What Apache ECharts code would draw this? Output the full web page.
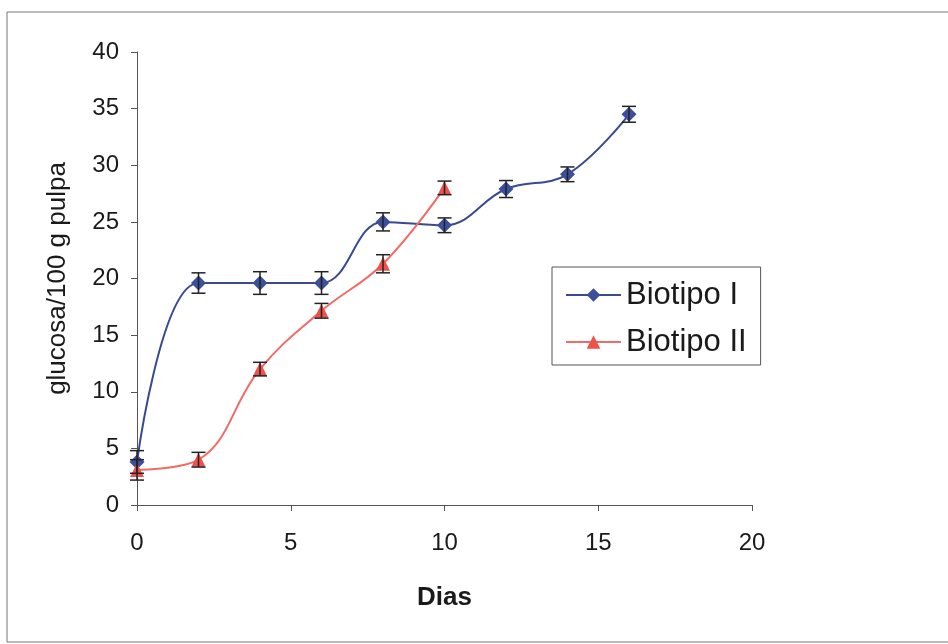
<!DOCTYPE html>
<html>
<head>
<meta charset="utf-8">
<script src="https://cdn.jsdelivr.net/npm/echarts@6/dist/echarts.min.js"></script>
<style>
  html, body { margin: 0; padding: 0; background: #fff; }
  #chart { width: 948px; height: 644px; }
</style>
</head>
<body>
<div id="chart"></div>
<script>
// datos
var dias1 = [0, 2, 4, 6, 8, 10, 12, 14, 16];
var biotipo1 = [3.8, 19.6, 19.6, 19.6, 25.0, 24.7, 27.9, 29.2, 34.5];
var err1 = [1.0, 0.9, 1.0, 1.0, 0.8, 0.65, 0.75, 0.65, 0.7];

var dias2 = [0, 2, 4, 6, 8, 10];
var biotipo2 = [3.1, 4.0, 12.0, 17.15, 21.3, 28.0];
var err2 = [0.9, 0.65, 0.6, 0.65, 0.8, 0.6];

var xTicks = [0, 5, 10, 15, 20];
var yTicks = [0, 5, 10, 15, 20, 25, 30, 35, 40];

var blue = '#3a4a8e', red = '#f26a66';
var fuente = 'Liberation Sans';

function pares(xs, ys) {
	return xs.map(function (x, i) { return [x, ys[i]]; });
}
function barras(xs, ys, es) {
	return xs.map(function (x, i) { return [x, ys[i] - es[i], ys[i] + es[i]]; });
}

// barra de error con tapas
function renderError(params, api) {
	var x = api.value(0);
	var lo = api.coord([x, api.value(1)]);
	var hi = api.coord([x, api.value(2)]);
	var w = 7;
	var st = { stroke: '#222', lineWidth: 1.5 };
	return {
		type: 'group',
		children: [
			{ type: 'line', shape: { x1: lo[0], y1: lo[1], x2: hi[0], y2: hi[1] }, style: st },
			{ type: 'line', shape: { x1: lo[0] - w, y1: lo[1], x2: lo[0] + w, y2: lo[1] }, style: st },
			{ type: 'line', shape: { x1: hi[0] - w, y1: hi[1], x2: hi[0] + w, y2: hi[1] }, style: st }
		]
	};
}

var myChart = echarts.init(document.getElementById('chart'), null, { renderer: 'canvas' });
var option = {
	backgroundColor: '#fff',
	animation: false,
	graphic: [{
		type: 'rect',
		shape: { x: 7, y: 12, width: 960, height: 630 },
		style: { fill: 'none', stroke: '#777', lineWidth: 1 }
	}],
	grid: { left: 137, top: 52, right: 196, bottom: 139 },
	legend: {
		orient: 'vertical',
		left: 552,
		top: 267,
		data: ['Biotipo I', 'Biotipo II'],
		itemWidth: 55,
		itemHeight: 17,
		itemGap: 13,
		itemTextGap: 8,
		padding: [11, 14, 6, 13],
		borderColor: '#555',
		borderWidth: 1,
		borderRadius: 0,
		textStyle: { fontFamily: fuente, fontSize: 31, color: '#1a1a1a', lineHeight: 34 }
	},
	xAxis: {
		type: 'value',
		min: 0,
		max: 20,
		interval: 5,
		name: 'Dias',
		nameLocation: 'middle',
		nameGap: 80,
		nameTextStyle: { fontFamily: fuente, fontSize: 26, fontWeight: 'bold', color: '#1a1a1a' },
		axisLine: { lineStyle: { color: '#555', width: 1 } },
		axisTick: { show: true, inside: false, length: 6, lineStyle: { color: '#555' } },
		axisLabel: { fontFamily: fuente, fontSize: 24, color: '#1a1a1a', margin: 26 },
		splitLine: { show: false }
	},
	yAxis: {
		type: 'value',
		min: 0,
		max: 40,
		interval: 5,
		name: 'glucosa/100 g pulpa',
		nameLocation: 'middle',
		nameGap: 66,
		nameTextStyle: { fontFamily: fuente, fontSize: 26, color: '#1a1a1a' },
		axisLine: { show: true, lineStyle: { color: '#555', width: 1 } },
		axisTick: { show: true, inside: false, length: 6, lineStyle: { color: '#555' } },
		axisLabel: { fontFamily: fuente, fontSize: 24, color: '#1a1a1a', margin: 18 },
		splitLine: { show: false }
	},
	series: [
		{
			name: 'Biotipo I',
			type: 'line',
			data: pares(dias1, biotipo1),
			smooth: 0.4,
			symbol: 'diamond',
			symbolSize: 15,
			itemStyle: { color: '#3c4f9a' },
			lineStyle: { color: blue, width: 2 },
			z: 3
		},
		{
			name: 'Biotipo II',
			type: 'line',
			data: pares(dias2, biotipo2),
			smooth: 0.4,
			symbol: 'triangle',
			symbolSize: 14,
			itemStyle: { color: '#f0504a' },
			lineStyle: { color: red, width: 2 },
			z: 3
		},
		{
			type: 'custom',
			renderItem: renderError,
			data: barras(dias1, biotipo1, err1),
			encode: { x: 0, y: [1, 2] },
			z: 4
		},
		{
			type: 'custom',
			renderItem: renderError,
			data: barras(dias2, biotipo2, err2),
			encode: { x: 0, y: [1, 2] },
			z: 4
		}
	]
};
myChart.setOption(option);
</script>
</body>
</html>
